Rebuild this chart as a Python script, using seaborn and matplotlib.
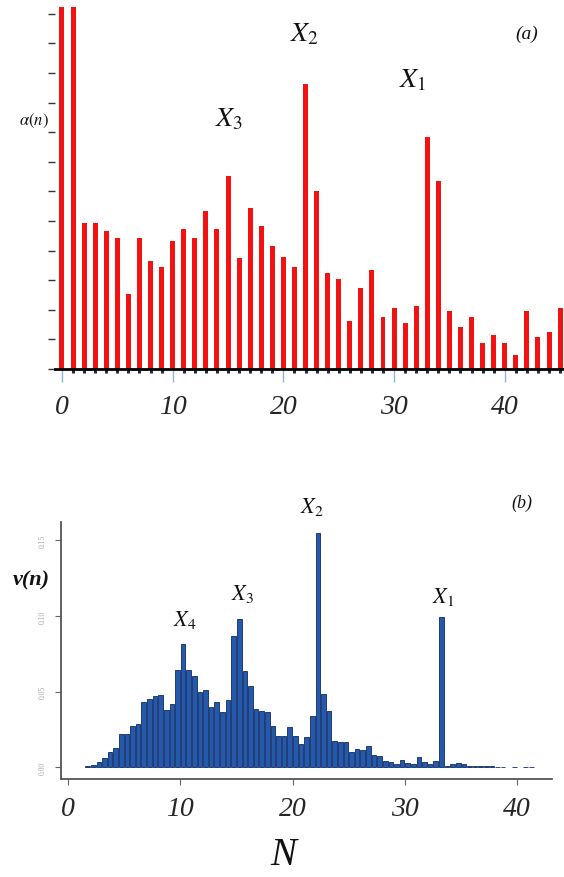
import matplotlib
matplotlib.use('Agg')
import numpy as np
import pandas as pd
import matplotlib.pyplot as plt
from matplotlib.ticker import MultipleLocator
import seaborn as sns

# panel (a): alpha(n), unitless tick units (no labels on the y axis)
alpha_n = list(range(46))
alpha_vals = [14, 14, 4.93, 4.93, 4.65, 4.44, 2.53, 4.44, 3.64, 3.45,
              4.32, 4.73, 4.44, 5.34, 4.73, 6.53, 3.76, 5.43, 4.84, 4.15,
              3.77, 3.45, 9.63, 6.02, 3.24, 3.04, 1.63, 2.74, 3.35, 1.77,
              2.05, 1.55, 2.14, 7.83, 6.34, 1.96, 1.43, 1.77, 0.87, 1.16,
              0.87, 0.47, 1.97, 1.07, 1.24, 2.05]

# panel (b): nu(n), histogram with half-unit bins
nu_N = np.arange(1.75, 41.3, 0.5)
nu_vals = [0.0007, 0.0015, 0.0033, 0.0059, 0.0099, 0.0130, 0.0218, 0.0223, 0.0271, 0.0284,
           0.0430, 0.0452, 0.0474, 0.0478, 0.0381, 0.0416, 0.0646, 0.0815, 0.0641, 0.0606,
           0.0496, 0.0513, 0.0399, 0.0434, 0.0368, 0.0443, 0.0870, 0.0980, 0.0637, 0.0535,
           0.0386, 0.0372, 0.0364, 0.0273, 0.0209, 0.0209, 0.0264, 0.0205, 0.0154, 0.0198,
           0.0337, 0.1547, 0.0485, 0.0370, 0.0176, 0.0165, 0.0165, 0.0099, 0.0121, 0.0117,
           0.0143, 0.0084, 0.0073, 0.0044, 0.0033, 0.0022, 0.0051, 0.0026, 0.0022, 0.0070,
           0.0037, 0.0022, 0.0044, 0.0996, 0.0011, 0.0022, 0.0026, 0.0020, 0.0011, 0.0011,
           0.0011, 0.0011, 0.0007, 0.0004, 0.0002, 0.0, 0.0004, 0.0, 0.0004, 0.0004]

xticks = [0, 10, 20, 30, 40]
nu_yticks = [0.0, 0.05, 0.10, 0.15]

sns.set_theme(style='white')
plt.rcParams['font.family'] = ['Liberation Serif', 'DejaVu Serif']
plt.rcParams['mathtext.fontset'] = 'stix'

W, H = 564, 878
fig = plt.figure(figsize=(W / 100, H / 100), dpi=100)

def px(x, y):
    return x / W, 1 - y / H

ax1 = fig.add_axes([55 / W, (H - 370) / H, 509 / W, 362 / H])
ax2 = fig.add_axes([61 / W, (H - 780) / H, 491 / W, 257 / H])

# ---- (a)
dfa = pd.DataFrame({'n': alpha_n, 'alpha': alpha_vals})
sns.barplot(data=dfa, x='n', y='alpha', native_scale=True, width=0.45,
            color='#f21212', saturation=1, errorbar=None, linewidth=0, ax=ax1)
ax1.set_xlim(-0.63, 45.35)
ax1.set_ylim(0, 12.23)
ax1.set_yticks(range(13))
ax1.set_yticklabels([])
ax1.set_xticks(xticks)
ax1.set_xticklabels([str(t) for t in xticks], fontsize=20, style='italic')
ax1.xaxis.set_minor_locator(MultipleLocator(1))
ax1.tick_params(axis='y', left=True, length=5, width=1, color='#333333')
ax1.tick_params(axis='x', which='major', bottom=True, length=9, width=1,
                color='#8fb4d9', pad=9)
ax1.tick_params(axis='x', which='minor', bottom=True, length=3, width=2.2,
                color='#1a2a4a')
for s in ['top', 'right', 'left']:
    ax1.spines[s].set_visible(False)
ax1.spines['bottom'].set_color('black')
ax1.spines['bottom'].set_linewidth(2)
ax1.set_xlabel('')
ax1.set_ylabel('')

# ---- (b)
dfb = pd.DataFrame({'N': nu_N, 'nu': nu_vals})
dfb = dfb[dfb['nu'] > 0]
sns.barplot(data=dfb, x='N', y='nu', native_scale=True, width=0.82,
            color='#2658ac', saturation=1, errorbar=None,
            edgecolor='#0c2c66', linewidth=0.6, ax=ax2)
ax2.set_xlim(-0.62, 43.1)
ax2.set_ylim(-0.0077, 0.162)
ax2.set_xticks(xticks)
ax2.set_xticklabels([str(t) for t in xticks], fontsize=20, style='italic')
ax2.set_yticks(nu_yticks)
ax2.set_yticklabels(['%.2f' % t for t in nu_yticks], fontsize=5.5,
                    rotation=90, va='center', color='#a8a8a8')
ax2.tick_params(axis='both', bottom=True, left=True, length=4, width=0.8,
                color='#666666')
ax2.tick_params(axis='x', pad=8)
ax2.tick_params(axis='y', pad=6)
for s in ['top', 'right']:
    ax2.spines[s].set_visible(False)
for s in ['left', 'bottom']:
    ax2.spines[s].set_color('#555555')
    ax2.spines[s].set_linewidth(1.3)
ax2.set_xlabel('')
ax2.set_ylabel('')

# ---- annotations
lab = dict(ha='center', va='center', color='#111111')
fig.text(*px(34, 121), r'$\alpha(n)$', fontsize=12, **lab)
fig.text(*px(229, 120), r'$X_3$', fontsize=20, **lab)
fig.text(*px(305, 35), r'$X_2$', fontsize=20, **lab)
fig.text(*px(413, 81), r'$X_1$', fontsize=20, **lab)
fig.text(*px(527, 34), '(a)', fontsize=14, style='italic', **lab)

fig.text(*px(31, 580), 'ν(n)', fontsize=16, style='italic', weight='bold', **lab)
fig.text(*px(185, 620), r'$X_4$', fontsize=16, **lab)
fig.text(*px(242, 594), r'$X_3$', fontsize=16, **lab)
fig.text(*px(312, 507), r'$X_2$', fontsize=16, **lab)
fig.text(*px(443, 597), r'$X_1$', fontsize=16, **lab)
fig.text(*px(522, 503), '(b)', fontsize=13, style='italic', **lab)
fig.text(*px(283, 856), 'N', fontsize=28, style='italic', **lab)

fig.savefig('out.png', dpi=100)
